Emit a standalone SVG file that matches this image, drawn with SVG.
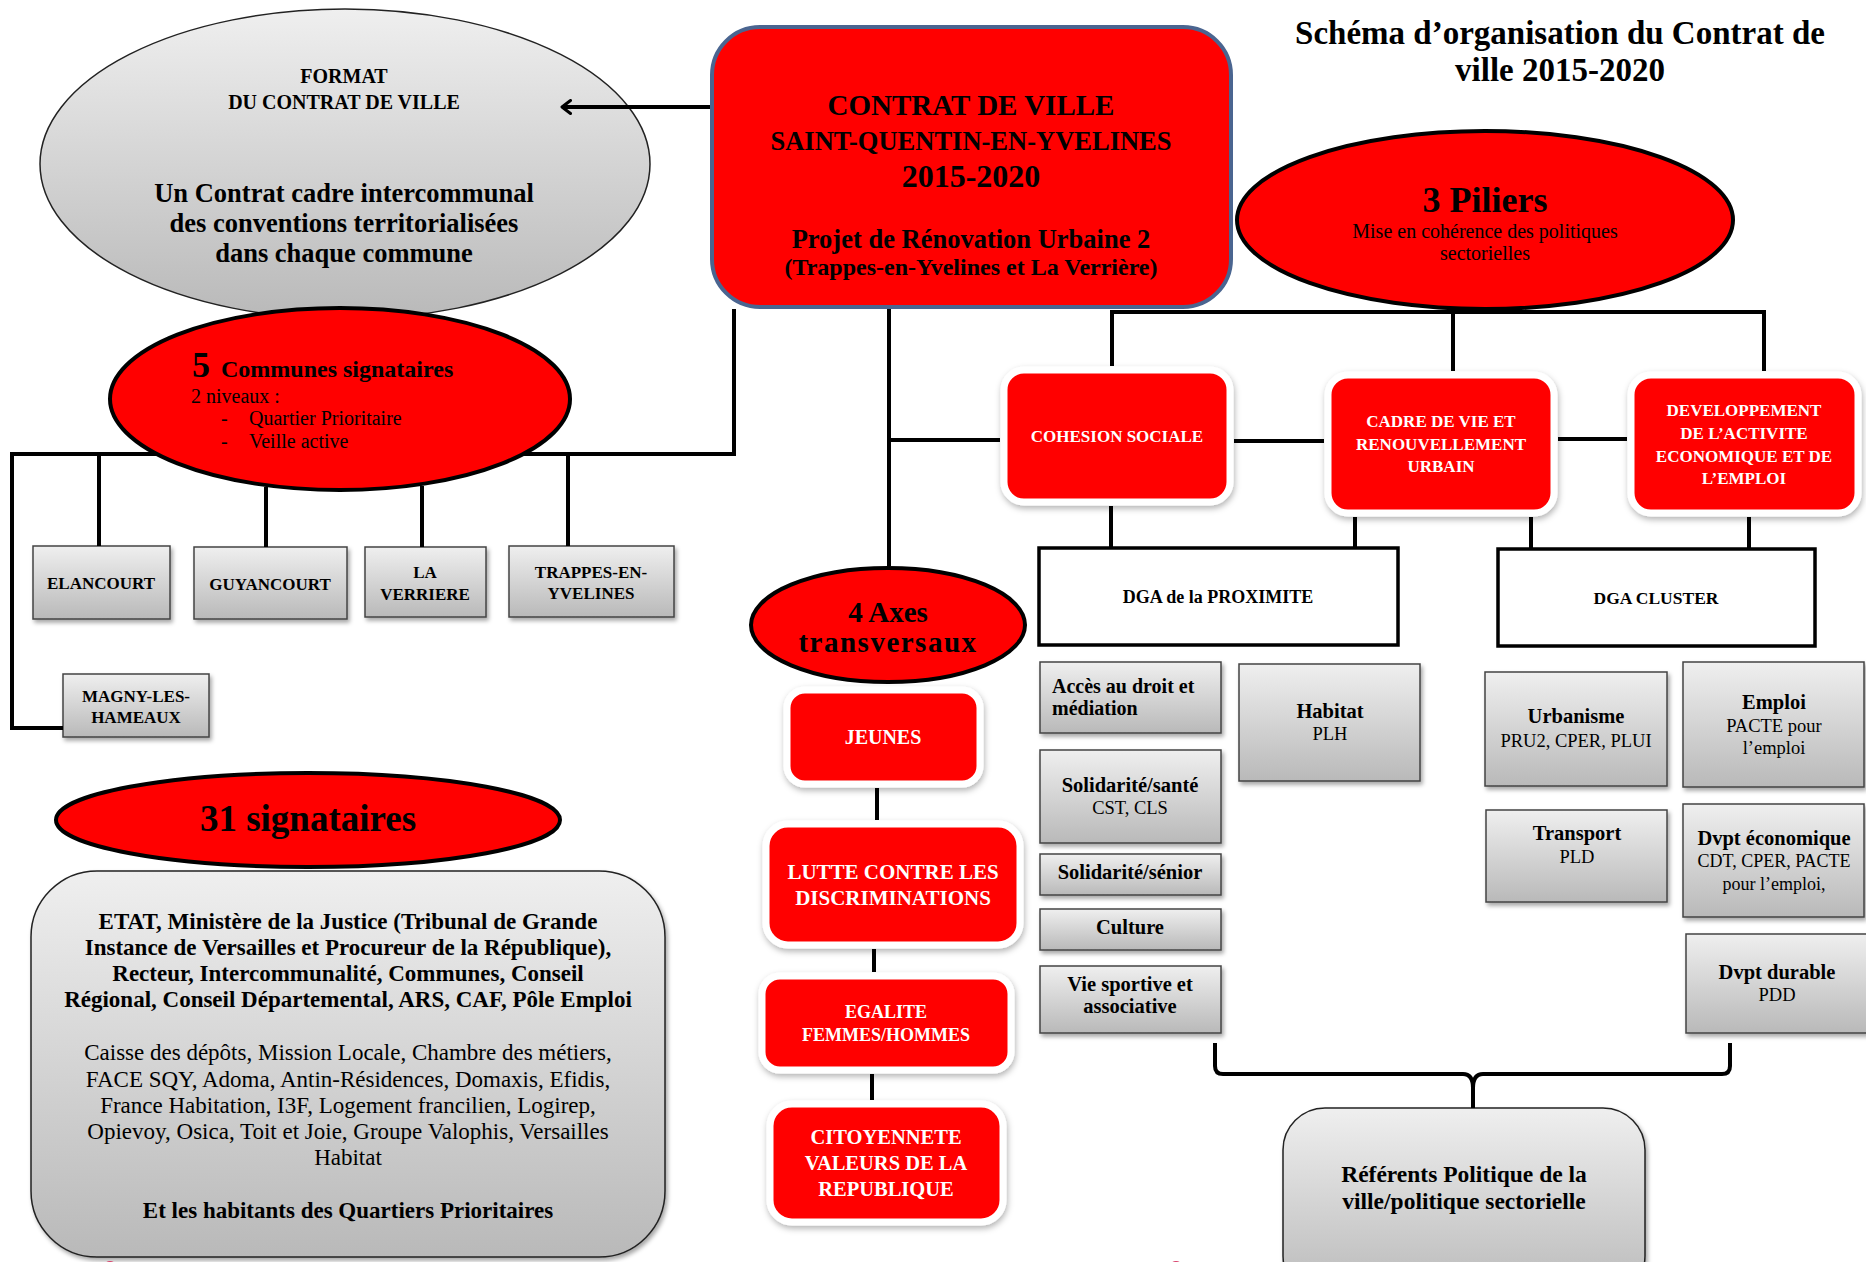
<svg xmlns="http://www.w3.org/2000/svg" width="1866" height="1262" viewBox="0 0 1866 1262">
<defs>
  <linearGradient id="gray" x1="0" y1="0" x2="0" y2="1">
    <stop offset="0" stop-color="#efefef"/>
    <stop offset="1" stop-color="#b9b9b9"/>
  </linearGradient>
  <filter id="sh" x="-10%" y="-10%" width="130%" height="130%">
    <feDropShadow dx="2" dy="3" stdDeviation="2" flood-color="#000" flood-opacity="0.35"/>
  </filter>
  <filter id="glow" x="-10%" y="-10%" width="130%" height="130%">
    <feDropShadow dx="1" dy="3" stdDeviation="3" flood-color="#000" flood-opacity="0.3"/>
  </filter>
  <marker id="arr" markerWidth="12" markerHeight="16" refX="10" refY="8" orient="auto" markerUnits="userSpaceOnUse" viewBox="0 0 12 16">
    <path d="M1.5,1.5 L10,8 L1.5,14.5" fill="none" stroke="#000" stroke-width="3" stroke-linecap="round" stroke-linejoin="round"/>
  </marker>
  <style>
    .t{font-family:"Liberation Serif","Times New Roman",serif;fill:#000}
    .b{font-weight:bold}
    .w{fill:#fff}
    .m{text-anchor:middle}
    .ln{fill:none;stroke:#000;stroke-width:4}
    .gb{fill:url(#gray);stroke:#444;stroke-width:1.5;filter:url(#sh)}
    .rb{fill:#ff0000;stroke:#fff;stroke-width:7;filter:url(#glow)}
    .re{fill:#ff0000;stroke:#000;stroke-width:4}
    .db{fill:#fff;stroke:#000;stroke-width:3.5}
  </style>
</defs>
<rect width="1866" height="1262" fill="#fff"/>

<g id="title">
  <text class="t b m" x="1560" y="44" font-size="33">Schéma d’organisation du Contrat de</text>
  <text class="t b m" x="1560" y="81" font-size="33">ville 2015-2020</text>
</g>

<g id="format">
  <ellipse cx="345" cy="164" rx="305" ry="155" fill="url(#gray)" stroke="#222" stroke-width="1.5"/>
  <text class="t b m" x="344" y="83" font-size="20">FORMAT</text>
  <text class="t b m" x="344" y="109" font-size="20">DU CONTRAT DE VILLE</text>
  <text class="t b m" x="344" y="202" font-size="26.5">Un Contrat cadre intercommunal</text>
  <text class="t b m" x="344" y="232" font-size="26.5">des conventions territorialisées</text>
  <text class="t b m" x="344" y="262" font-size="26.5">dans chaque commune</text>
</g>

<g id="contrat">
  <rect x="712" y="27" width="519" height="280" rx="48" fill="#ff0000" stroke="#4a6590" stroke-width="4"/>
  <text class="t b m" x="971" y="115" font-size="29">CONTRAT DE VILLE</text>
  <text class="t b m" x="971" y="150" font-size="26.5">SAINT-QUENTIN-EN-YVELINES</text>
  <text class="t b m" x="971" y="187" font-size="32">2015-2020</text>
  <text class="t b m" x="971" y="248" font-size="26.5">Projet de Rénovation Urbaine 2</text>
  <text class="t b m" x="971" y="275" font-size="24">(Trappes-en-Yvelines et La Verrière)</text>
</g>

<g id="piliers">
  <ellipse class="re" cx="1485" cy="220" rx="248" ry="89"/>
  <text class="t b m" x="1485" y="212" font-size="36">3 Piliers</text>
  <text class="t m" x="1485" y="238" font-size="20">Mise en cohérence des politiques</text>
  <text class="t m" x="1485" y="260" font-size="20">sectorielles</text>
</g>

<g id="communes">
  <ellipse class="re" cx="340" cy="399" rx="230" ry="91"/>
  <text class="t b" x="192" y="377" font-size="36">5</text>
  <text class="t b" x="221" y="377" font-size="24">Communes signataires</text>
  <text class="t" x="191" y="403" font-size="20">2 niveaux :</text>
  <text class="t" x="221" y="425" font-size="20">-</text>
  <text class="t" x="249" y="425" font-size="20">Quartier Prioritaire</text>
  <text class="t" x="221" y="448" font-size="20">-</text>
  <text class="t" x="249" y="448" font-size="20">Veille active</text>
</g>

<g id="elancourt">
  <rect class="gb" x="33" y="546" width="137" height="73"/>
  <text class="t b m" x="101" y="589" font-size="17">ELANCOURT</text>
</g>
<g id="guyancourt">
  <rect class="gb" x="194" y="547" width="153" height="72"/>
  <text class="t b m" x="270" y="590" font-size="17">GUYANCOURT</text>
</g>
<g id="laverriere">
  <rect class="gb" x="365" y="547" width="121" height="70"/>
  <text class="t b m" x="425" y="578" font-size="17">LA</text>
  <text class="t b m" x="425" y="600" font-size="17">VERRIERE</text>
</g>
<g id="trappes">
  <rect class="gb" x="509" y="546" width="165" height="71"/>
  <text class="t b m" x="591" y="578" font-size="17">TRAPPES-EN-</text>
  <text class="t b m" x="591" y="599" font-size="17">YVELINES</text>
</g>
<g id="magny">
  <rect class="gb" x="63" y="674" width="146" height="63"/>
  <text class="t b m" x="136" y="702" font-size="17">MAGNY-LES-</text>
  <text class="t b m" x="136" y="723" font-size="17">HAMEAUX</text>
</g>

<g id="signataires31">
  <ellipse class="re" cx="308" cy="820" rx="252" ry="47"/>
  <text class="t b m" x="308" y="831" font-size="37">31 signataires</text>
</g>

<g id="liste">
  <rect x="31" y="871" width="634" height="386" rx="66" fill="url(#gray)" stroke="#222" stroke-width="1.5" filter="url(#sh)"/>
  <text class="t b m" x="348" y="929" font-size="23">ETAT, Ministère de la Justice (Tribunal de Grande</text>
  <text class="t b m" x="348" y="955" font-size="23">Instance de Versailles et Procureur de la République),</text>
  <text class="t b m" x="348" y="981" font-size="23">Recteur, Intercommunalité, Communes, Conseil</text>
  <text class="t b m" x="348" y="1007" font-size="23">Régional, Conseil Départemental, ARS, CAF, Pôle Emploi</text>
  <text class="t m" x="348" y="1060" font-size="23">Caisse des dépôts, Mission Locale, Chambre des métiers,</text>
  <text class="t m" x="348" y="1087" font-size="23">FACE SQY, Adoma, Antin-Résidences, Domaxis, Efidis,</text>
  <text class="t m" x="348" y="1113" font-size="23">France Habitation, I3F, Logement francilien, Logirep,</text>
  <text class="t m" x="348" y="1139" font-size="23">Opievoy, Osica, Toit et Joie,  Groupe Valophis, Versailles</text>
  <text class="t m" x="348" y="1165" font-size="23">Habitat</text>
  <text class="t b m" x="348" y="1218" font-size="23">Et les habitants des Quartiers Prioritaires</text>
</g>

<g id="axes">
  <ellipse class="re" cx="888" cy="625" rx="137" ry="57"/>
  <text class="t b m" x="888" y="622" font-size="29">4 Axes</text>
  <text class="t b m" x="888" y="652" font-size="29" letter-spacing="1.5">transversaux</text>
</g>
<g id="jeunes">
  <rect class="rb" x="787" y="690" width="193" height="94" rx="18"/>
  <text class="t b m w" x="883" y="744" font-size="20">JEUNES</text>
</g>
<g id="lutte">
  <rect class="rb" x="766" y="824" width="254" height="121" rx="22"/>
  <text class="t b m w" x="893" y="879" font-size="21">LUTTE CONTRE LES</text>
  <text class="t b m w" x="893" y="905" font-size="21">DISCRIMINATIONS</text>
</g>
<g id="egalite">
  <rect class="rb" x="762" y="976" width="249" height="94" rx="18"/>
  <text class="t b m w" x="886" y="1018" font-size="18">EGALITE</text>
  <text class="t b m w" x="886" y="1041" font-size="18">FEMMES/HOMMES</text>
</g>
<g id="citoyennete">
  <rect class="rb" x="770" y="1104" width="233" height="118" rx="22"/>
  <text class="t b m w" x="886" y="1144" font-size="20.5">CITOYENNETE</text>
  <text class="t b m w" x="886" y="1170" font-size="20.5">VALEURS DE  LA</text>
  <text class="t b m w" x="886" y="1196" font-size="20.5">REPUBLIQUE</text>
</g>

<g id="cohesion">
  <rect class="rb" x="1004" y="370" width="226" height="132" rx="20"/>
  <text class="t b m w" x="1117" y="442" font-size="17">COHESION SOCIALE</text>
</g>
<g id="cadre">
  <rect class="rb" x="1328" y="375" width="226" height="138" rx="20"/>
  <text class="t b m w" x="1441" y="427" font-size="17">CADRE DE VIE ET</text>
  <text class="t b m w" x="1441" y="450" font-size="17">RENOUVELLEMENT</text>
  <text class="t b m w" x="1441" y="472" font-size="17">URBAIN</text>
</g>
<g id="developpement">
  <rect class="rb" x="1631" y="375" width="227" height="138" rx="20"/>
  <text class="t b m w" x="1744" y="416" font-size="17">DEVELOPPEMENT</text>
  <text class="t b m w" x="1744" y="439" font-size="17">DE L’ACTIVITE</text>
  <text class="t b m w" x="1744" y="462" font-size="17">ECONOMIQUE ET DE</text>
  <text class="t b m w" x="1744" y="484" font-size="17">L’EMPLOI</text>
</g>

<g id="dga-proximite">
  <rect class="db" x="1039" y="548" width="359" height="97"/>
  <text class="t b m" x="1218" y="603" font-size="18">DGA de la PROXIMITE</text>
</g>
<g id="dga-cluster">
  <rect class="db" x="1498" y="549" width="317" height="97"/>
  <text class="t b m" x="1656" y="604" font-size="17.5">DGA CLUSTER</text>
</g>

<g id="acces">
  <rect class="gb" x="1040" y="662" width="181" height="71"/>
  <text class="t b" x="1052" y="693" font-size="20">Accès au droit et</text>
  <text class="t b" x="1052" y="715" font-size="20">médiation</text>
</g>
<g id="sante">
  <rect class="gb" x="1040" y="750" width="181" height="93"/>
  <text class="t b m" x="1130" y="792" font-size="20.5">Solidarité/santé</text>
  <text class="t m" x="1130" y="814" font-size="18.5">CST, CLS</text>
</g>
<g id="senior">
  <rect class="gb" x="1040" y="854" width="181" height="41"/>
  <text class="t b m" x="1130" y="879" font-size="20.5">Solidarité/sénior</text>
</g>
<g id="culture">
  <rect class="gb" x="1040" y="909" width="181" height="41"/>
  <text class="t b m" x="1130" y="934" font-size="20.5">Culture</text>
</g>
<g id="sport">
  <rect class="gb" x="1040" y="966" width="181" height="67"/>
  <text class="t b m" x="1130" y="991" font-size="20.5">Vie sportive et</text>
  <text class="t b m" x="1130" y="1013" font-size="20.5">associative</text>
</g>
<g id="habitat">
  <rect class="gb" x="1239" y="664" width="181" height="117"/>
  <text class="t b m" x="1330" y="718" font-size="20.5">Habitat</text>
  <text class="t m" x="1330" y="740" font-size="18.5">PLH</text>
</g>
<g id="urbanisme">
  <rect class="gb" x="1485" y="672" width="182" height="114"/>
  <text class="t b m" x="1576" y="723" font-size="20.5">Urbanisme</text>
  <text class="t m" x="1576" y="747" font-size="18.5">PRU2, CPER, PLUI</text>
</g>
<g id="emploi">
  <rect class="gb" x="1683" y="662" width="181" height="125"/>
  <text class="t b m" x="1774" y="709" font-size="20.5">Emploi</text>
  <text class="t m" x="1774" y="732" font-size="18.5">PACTE pour</text>
  <text class="t m" x="1774" y="754" font-size="18.5">l’emploi</text>
</g>
<g id="transport">
  <rect class="gb" x="1486" y="810" width="181" height="92"/>
  <text class="t b m" x="1577" y="840" font-size="20.5">Transport</text>
  <text class="t m" x="1577" y="863" font-size="18.5">PLD</text>
</g>
<g id="dvpt-eco">
  <rect class="gb" x="1683" y="804" width="181" height="113"/>
  <text class="t b m" x="1774" y="845" font-size="20.5">Dvpt économique</text>
  <text class="t m" x="1774" y="867" font-size="18">CDT, CPER, PACTE</text>
  <text class="t m" x="1774" y="890" font-size="18">pour l’emploi,</text>
</g>
<g id="dvpt-durable">
  <rect class="gb" x="1686" y="934" width="182" height="99"/>
  <text class="t b m" x="1777" y="979" font-size="20.5">Dvpt durable</text>
  <text class="t m" x="1777" y="1001" font-size="18.5">PDD</text>
</g>

<g id="referents">
  <rect x="1283" y="1108" width="362" height="190" rx="42" fill="url(#gray)" stroke="#222" stroke-width="1.5" filter="url(#sh)"/>
  <text class="t b m" x="1464" y="1182" font-size="23.5">Référents Politique de la</text>
  <text class="t b m" x="1464" y="1209" font-size="23.5">ville/politique sectorielle</text>
</g>

<g id="edge-marks">
  <circle cx="110" cy="1268" r="7" fill="#d8406a"/>
  <circle cx="1176" cy="1268" r="7" fill="#d8406a"/>
</g>

<g id="connectors">
  <line class="ln" x1="710" y1="107" x2="562" y2="107" marker-end="url(#arr)"/>
  <polyline class="ln" points="734,309 734,454 523,454"/>
  <polyline class="ln" points="157,454 12,454 12,728 63,728"/>
  <line class="ln" x1="99" y1="454" x2="99" y2="546"/>
  <line class="ln" x1="568" y1="454" x2="568" y2="546"/>
  <line class="ln" x1="266" y1="487" x2="266" y2="547"/>
  <line class="ln" x1="422" y1="486" x2="422" y2="547"/>
  <line class="ln" x1="889" y1="309" x2="889" y2="566"/>
  <line class="ln" x1="889" y1="440" x2="1000" y2="440"/>
  <line class="ln" x1="1234" y1="441" x2="1324" y2="441"/>
  <line class="ln" x1="1558" y1="439" x2="1627" y2="439"/>
  <polyline class="ln" points="1112,366 1112,312 1764,312 1764,371"/>
  <line class="ln" x1="1453" y1="311" x2="1453" y2="371"/>
  <line class="ln" x1="1111" y1="506" x2="1111" y2="548"/>
  <line class="ln" x1="1355" y1="517" x2="1355" y2="548"/>
  <line class="ln" x1="1531" y1="517" x2="1531" y2="549"/>
  <line class="ln" x1="1749" y1="517" x2="1749" y2="549"/>
  <line class="ln" x1="877" y1="788" x2="877" y2="820"/>
  <line class="ln" x1="874" y1="949" x2="874" y2="972"/>
  <line class="ln" x1="872" y1="1074" x2="872" y2="1100"/>
  <path class="ln" d="M1215,1043 L1215,1066 Q1215,1074 1223,1074 L1463,1074 Q1473,1074 1473,1088 L1473,1108 M1473,1088 Q1473,1074 1483,1074 L1722,1074 Q1730,1074 1730,1066 L1730,1043"/>
</g>
</svg>
